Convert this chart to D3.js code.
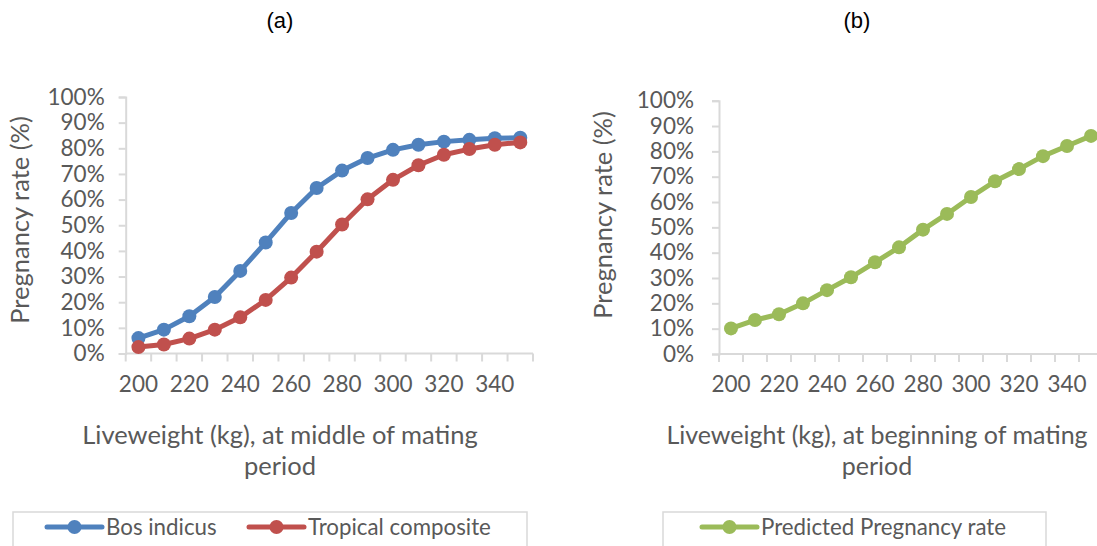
<!DOCTYPE html>
<html>
<head>
<meta charset="utf-8">
<script src="https://cdn.jsdelivr.net/npm/d3@7"></script>
<style>
  html, body { margin: 0; padding: 0; background: #fff; }
  svg { display: block; }
</style>
</head>
<body>
<svg id="chart" width="1097" height="546"></svg>
<script>
// ---- data ----
const categories = [200, 210, 220, 230, 240, 250, 260, 270, 280, 290, 300, 310, 320, 330, 340, 350];
const bosIndicus = [0.06, 0.093, 0.145, 0.22, 0.322, 0.433, 0.548, 0.645, 0.713, 0.762, 0.794, 0.814, 0.826, 0.833, 0.839, 0.841];
const tropicalComposite = [0.025, 0.035, 0.058, 0.093, 0.141, 0.209, 0.296, 0.397, 0.503, 0.601, 0.677, 0.734, 0.775, 0.797, 0.814, 0.823];
const predictedRate = [0.101, 0.134, 0.157, 0.20, 0.252, 0.303, 0.362, 0.421, 0.491, 0.553, 0.62, 0.682, 0.73, 0.781, 0.821, 0.861];
const yTicks = [0, 0.1, 0.2, 0.3, 0.4, 0.5, 0.6, 0.7, 0.8, 0.9, 1.0];
const xTickLabels = [200, 220, 240, 260, 280, 300, 320, 340];

const FONT = "Lato, 'Open Sans', sans-serif";
const TXT = "#595959";
const AXIS = "#d9d9d9";

const svg = d3.select("#chart");

function panel(cfg) {
  const g = svg.append("g");
  const x = d3.scaleBand().domain(categories).range([cfg.x0, cfg.x1]).padding(0);
  const y = d3.scaleLinear().domain([0, 1]).range([cfg.y0, cfg.y1]);

  // y axis
  const yAxis = d3.axisLeft(y).tickValues(yTicks).tickFormat(d3.format(".0%")).tickSize(7).tickPadding(cfg.yPad);
  const ya = g.append("g").attr("transform", `translate(${cfg.x0},0)`).call(yAxis);
  ya.select(".domain").attr("stroke", AXIS).attr("stroke-width", 2);
  ya.selectAll(".tick line").attr("stroke", AXIS).attr("stroke-width", 2);
  ya.selectAll(".tick text").attr("fill", TXT).style("font-family", FONT).style("font-size", "22.5px");

  // x axis baseline
  g.append("line").attr("x1", cfg.x0).attr("x2", cfg.x1).attr("y1", cfg.y0).attr("y2", cfg.y0)
    .attr("stroke", AXIS).attr("stroke-width", 2);
  // boundary ticks
  const bounds = categories.map(c => x(c)).concat([x.range()[1]]);
  g.selectAll(".xt").data(bounds).enter().append("line")
    .attr("x1", d => d).attr("x2", d => d).attr("y1", cfg.y0).attr("y2", cfg.y0 + 8)
    .attr("stroke", AXIS).attr("stroke-width", 2);
  // labels
  g.selectAll(".xl").data(xTickLabels).enter().append("text")
    .attr("x", d => x(d) + x.bandwidth() / 2).attr("y", cfg.y0 + 38)
    .attr("text-anchor", "middle").attr("fill", TXT)
    .style("font-family", FONT).style("font-size", "22.5px").text(d => d);

  // series
  const line = d3.line().x((d, i) => x(categories[i]) + x.bandwidth() / 2).y(d => y(d));
  cfg.series.forEach(s => {
    g.append("path").datum(s.values).attr("d", line).attr("fill", "none")
      .attr("stroke", s.color).attr("stroke-width", 5).attr("stroke-linejoin", "round");
    g.selectAll(null).data(s.values).enter().append("circle")
      .attr("cx", (d, i) => x(categories[i]) + x.bandwidth() / 2).attr("cy", d => y(d))
      .attr("r", 7).attr("fill", s.color);
  });

  // y title
  g.append("text").attr("transform", `translate(${cfg.yTitleX},${cfg.yTitleY}) rotate(-90)`)
    .attr("text-anchor", "middle").attr("fill", TXT)
    .style("font-family", FONT).style("font-size", "25.5px").text("Pregnancy rate (%)");

  // x title
  cfg.xTitle.forEach((t, i) => {
    g.append("text").attr("x", cfg.xTitleX).attr("y", 444 + i * 31).attr("text-anchor", "middle")
      .attr("fill", TXT).style("font-family", FONT).style("font-size", cfg.xTitleSize).text(t);
  });

  // panel label
  g.append("text").attr("x", cfg.labelX).attr("y", 28).attr("text-anchor", "middle")
    .attr("fill", "#000").style("font-family", "'Liberation Sans', Arial, sans-serif").style("font-size", "22px")
    .text(cfg.label);

  // legend
  g.append("rect").attr("x", cfg.legX).attr("y", 512).attr("width", cfg.legW).attr("height", 60)
    .attr("fill", "none").attr("stroke", AXIS).attr("stroke-width", 1.5);
  cfg.series.forEach((s, i) => {
    const lx = cfg.legItems[i];
    g.append("line").attr("x1", lx).attr("x2", lx + 55).attr("y1", 527).attr("y2", 527)
      .attr("stroke", s.color).attr("stroke-width", 5).attr("stroke-linecap", "round");
    g.append("circle").attr("cx", lx + 27.5).attr("cy", 527).attr("r", 7).attr("fill", s.color);
    g.append("text").attr("x", lx + 59).attr("y", 535).attr("fill", TXT)
      .style("font-family", FONT).style("font-size", "22.3px").text(s.name);
  });
}

panel({
  x0: 125.7, x1: 533, y0: 353.5, y1: 97, yPad: 14,
  series: [
    { name: "Bos indicus", values: bosIndicus, color: "#4F81BD" },
    { name: "Tropical composite", values: tropicalComposite, color: "#C0504D" }
  ],
  yTitleX: 29, yTitleY: 220,
  xTitle: ["Liveweight (kg), at middle of mating", "period"], xTitleX: 280, xTitleSize: "25.5px",
  label: "(a)", labelX: 280,
  legX: 13, legW: 514, legItems: [47, 249]
});

panel({
  x0: 719, x1: 1103, y0: 354, y1: 100.7, yPad: 18,
  series: [
    { name: "Predicted Pregnancy rate", values: predictedRate, color: "#9BBB59" }
  ],
  yTitleX: 612, yTitleY: 215,
  xTitle: ["Liveweight (kg), at beginning of mating", "period"], xTitleX: 877, xTitleSize: "25px",
  label: "(b)", labelX: 857,
  legX: 663, legW: 383, legItems: [702]
});
</script>
</body>
</html>
